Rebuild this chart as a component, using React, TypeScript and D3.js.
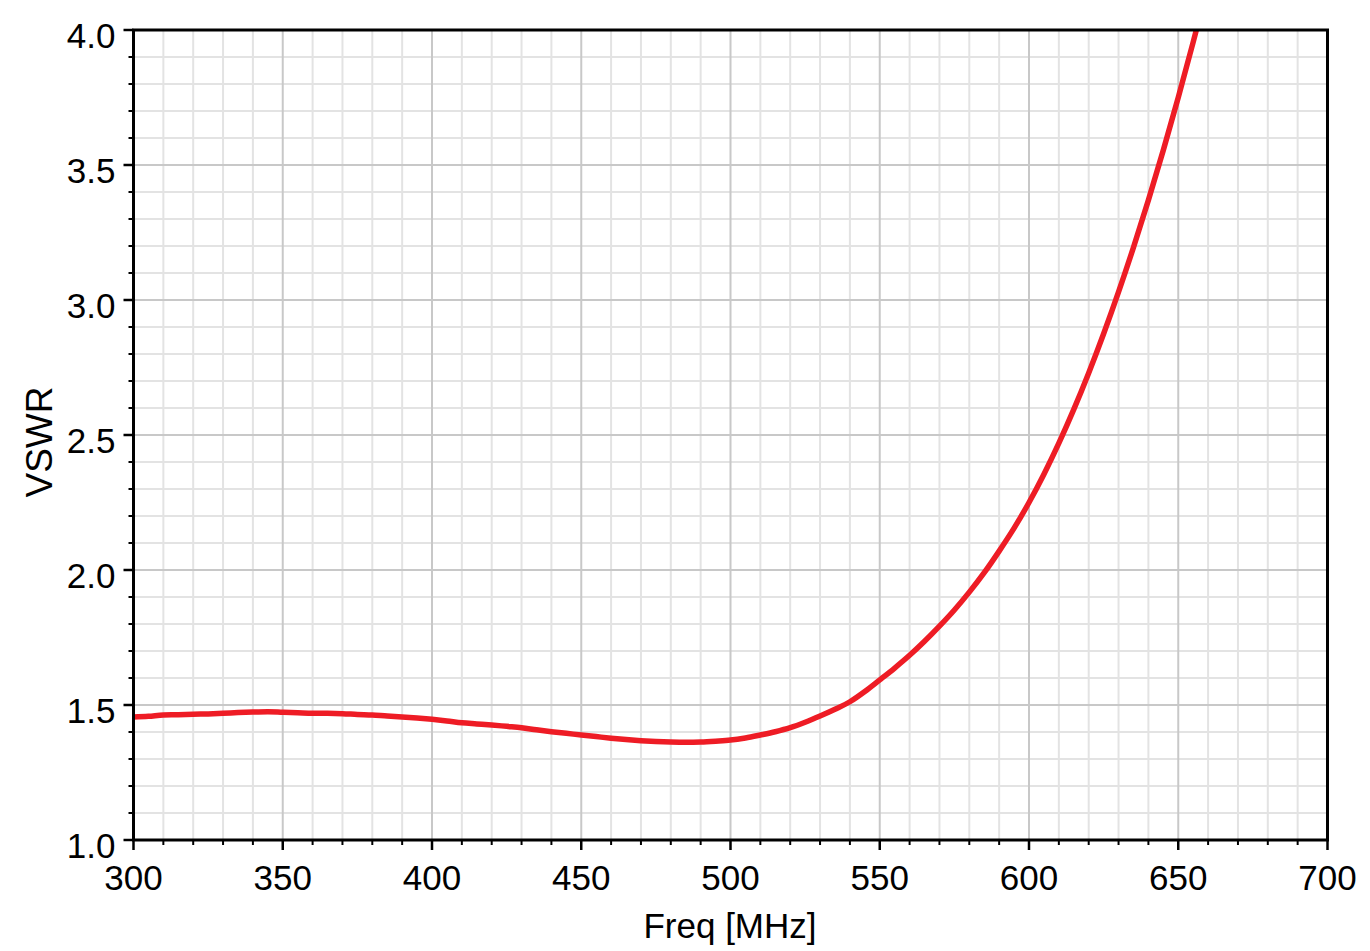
import * as d3 from "d3";

const W = 1370;
const H = 951;
const PLOT = { left: 133.5, right: 1327.5, top: 30, bottom: 840 };

const FREQ = [
  300, 305, 310, 315, 320, 325, 330, 335, 340, 345, 350, 355, 360, 365, 370, 375,
  380, 385, 390, 395, 400, 405, 410, 415, 420, 425, 430, 435, 440, 445, 450, 455,
  460, 465, 470, 475, 480, 485, 490, 495, 500, 505, 510, 515, 520, 525, 530, 535,
  540, 545, 550, 555, 560, 565, 570, 575, 580, 585, 590, 595, 600, 605, 610, 615,
  620, 625, 630, 635, 640, 645, 650, 655, 657,
];
const VSWR = [
  1.456, 1.458, 1.463, 1.464, 1.466, 1.467, 1.469, 1.472, 1.474, 1.475, 1.473, 1.471,
  1.469, 1.469, 1.468, 1.465, 1.463, 1.459, 1.456, 1.452, 1.447, 1.441, 1.434, 1.43,
  1.426, 1.421, 1.416, 1.408, 1.401, 1.395, 1.389, 1.383, 1.377, 1.372, 1.368, 1.365,
  1.363, 1.362, 1.363, 1.366, 1.37, 1.378, 1.389, 1.401, 1.416, 1.436, 1.459, 1.484,
  1.512, 1.55, 1.593, 1.637, 1.684, 1.736, 1.792, 1.852, 1.918, 1.99, 2.07, 2.155,
  2.25, 2.355, 2.47, 2.595, 2.73, 2.875, 3.03, 3.195, 3.37, 3.555, 3.75, 3.955, 4.04,
];

const X_MAJOR = [300, 350, 400, 450, 500, 550, 600, 650, 700];
const Y_MAJOR = [1.0, 1.5, 2.0, 2.5, 3.0, 3.5, 4.0];

const FONT = "Liberation Sans, Arial, sans-serif";

export default function App() {
  const x = d3.scaleLinear().domain([300, 700]).range([PLOT.left, PLOT.right]);
  const y = d3.scaleLinear().domain([1, 4]).range([PLOT.bottom, PLOT.top]);

  const xMinor = d3.range(300, 701, 10).filter((v) => v % 50 !== 0);
  const yMinor = d3.range(10, 41, 1).filter((v) => v % 5 !== 0).map((v) => v / 10);

  const pts = FREQ.map((f, i) => [f, VSWR[i]] as [number, number]);
  const line = d3
    .line<[number, number]>()
    .x((d) => x(d[0]))
    .y((d) => y(d[1]))
    .curve(d3.curveMonotoneX);

  return (
    <svg
      width={W}
      height={H}
      style={{ position: "absolute", left: 0, top: 0, background: "#fff" }}
      fontFamily={FONT}
    >
      <defs>
        <clipPath id="plot">
          <rect x={PLOT.left} y={PLOT.top} width={PLOT.right - PLOT.left} height={PLOT.bottom - PLOT.top} />
        </clipPath>
      </defs>

      {/* minor grid */}
      {xMinor.map((v) => (
        <line key={"xm" + v} x1={x(v)} x2={x(v)} y1={PLOT.top} y2={PLOT.bottom} stroke="#e3e3e3" strokeWidth={2} />
      ))}
      {yMinor.map((v) => (
        <line key={"ym" + v} x1={PLOT.left} x2={PLOT.right} y1={y(v)} y2={y(v)} stroke="#e3e3e3" strokeWidth={2} />
      ))}
      {/* major grid */}
      {X_MAJOR.map((v) => (
        <line key={"xM" + v} x1={x(v)} x2={x(v)} y1={PLOT.top} y2={PLOT.bottom} stroke="#c8c8c8" strokeWidth={2} />
      ))}
      {Y_MAJOR.map((v) => (
        <line key={"yM" + v} x1={PLOT.left} x2={PLOT.right} y1={y(v)} y2={y(v)} stroke="#c8c8c8" strokeWidth={2} />
      ))}

      {/* trace */}
      <path
        d={line(pts) ?? ""}
        fill="none"
        stroke="#ee1c25"
        strokeWidth={5.5}
        strokeLinejoin="round"
        clipPath="url(#plot)"
      />

      {/* frame */}
      <rect
        x={PLOT.left}
        y={PLOT.top}
        width={PLOT.right - PLOT.left}
        height={PLOT.bottom - PLOT.top}
        fill="none"
        stroke="#000"
        strokeWidth={3}
      />

      {/* ticks */}
      {xMinor.map((v) => (
        <line key={"xt" + v} x1={x(v)} x2={x(v)} y1={PLOT.bottom} y2={PLOT.bottom + 5} stroke="#000" strokeWidth={2} />
      ))}
      {X_MAJOR.map((v) => (
        <line key={"xT" + v} x1={x(v)} x2={x(v)} y1={PLOT.bottom} y2={PLOT.bottom + 10} stroke="#000" strokeWidth={2.5} />
      ))}
      {yMinor.map((v) => (
        <line key={"yt" + v} x1={PLOT.left - 5} x2={PLOT.left} y1={y(v)} y2={y(v)} stroke="#000" strokeWidth={2} />
      ))}
      {Y_MAJOR.map((v) => (
        <line key={"yT" + v} x1={PLOT.left - 10} x2={PLOT.left} y1={y(v)} y2={y(v)} stroke="#000" strokeWidth={2.5} />
      ))}

      {/* tick labels */}
      {X_MAJOR.map((v) => (
        <text key={"xl" + v} x={x(v)} y={PLOT.bottom + 50} textAnchor="middle" fontSize={35} fill="#000">
          {v}
        </text>
      ))}
      {Y_MAJOR.map((v) => (
        <text key={"yl" + v} x={PLOT.left - 18} y={y(v) + 18} textAnchor="end" fontSize={35} fill="#000">
          {v.toFixed(1)}
        </text>
      ))}

      {/* axis titles */}
      <text x={730} y={938} textAnchor="middle" fontSize={35} fill="#000">
        Freq [MHz]
      </text>
      <text transform="translate(52,442) rotate(-90)" textAnchor="middle" fontSize={37} fill="#000">
        VSWR
      </text>
    </svg>
  );
}
